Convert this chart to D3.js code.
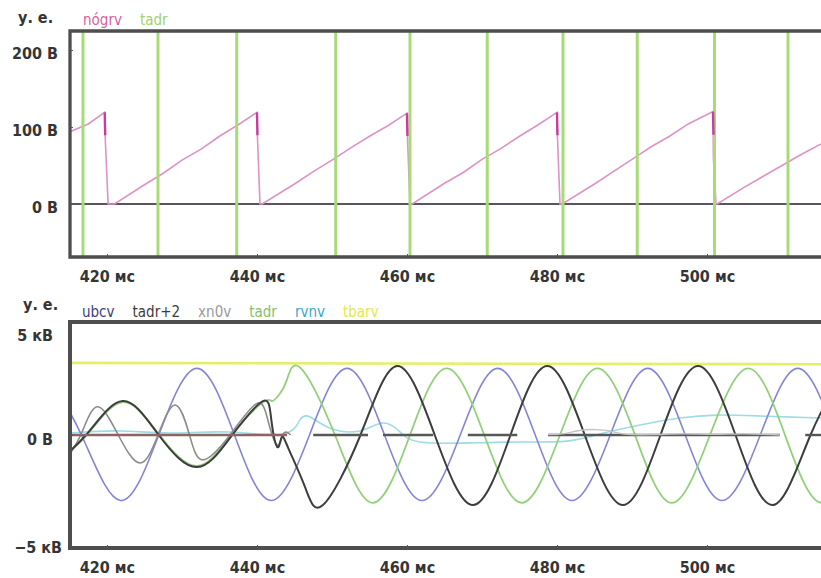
<!DOCTYPE html>
<html>
<head>
<meta charset="utf-8">
<script src="https://cdn.jsdelivr.net/npm/d3@7"></script>
<style>
  body { margin: 0; background: #fff; }
  svg { display: block; }
</style>
</head>
<body>
<div id="chart"></div>
<script>
// ===== DATA =====
const timeTicks = [420, 440, 460, 480, 500];          // ms
const topTicks = [200, 100, 0];                       // V
const bottomTicks = [5, 0, -5];                       // kV
const topLegend = ['nógrv', 'tadr'];
const bottomLegend = ['ubcv', 'tadr+2', 'xn0v', 'tadr', 'rvnv', 'tbarv'];

// top panel: tadr pulses (ms)
const tadrPulses = [416.8, 426.8, 437.3, 450.5, 460.4, 470.7, 480.8, 490.7, 501.0, 510.8];

// top panel: nógrv sawtooth [ms, V]
const nogrv = [
    [415.07, 94], [417.5, 104], [419.7, 119], [419.75, 90], [420.15, 0], [421.0, 0],
    [425.0, 25], [427.5, 40], [430.0, 57], [432.5, 71], [435.0, 88], [437.5, 103], [440.0, 119],
    [440.05, 90], [440.4, 0], [440.7, 0],
    [445.0, 26], [447.5, 42], [450.0, 57], [452.5, 73], [455.0, 88], [457.5, 102], [460.0, 118],
    [460.05, 90], [460.4, 0], [460.7, 0],
    [465.0, 27], [467.5, 41], [470.0, 58], [472.5, 72], [475.0, 88], [477.5, 103], [480.0, 119],
    [480.05, 90], [480.4, 0], [480.7, 0],
    [485.0, 26], [487.5, 42], [490.0, 58], [492.5, 74], [495.0, 88], [497.5, 104], [500.8, 120],
    [500.85, 60], [501.2, 0], [501.35, 0],
    [505.0, 22], [507.5, 36], [510.0, 50], [512.5, 64], [515.2, 78]
];
// sharp drops of nógrv [ms, peak V]
const nogrvDrops = [[419.7, 119], [440.0, 119], [460.0, 118], [480.0, 119], [500.8, 120]];

// bottom panel series [ms, kV]
const ubcv = [
    [411.5, 2.95], [416.6, 0], [421.8, -2.9], [426.9, 0], [432.0, 2.95], [437.0, 0],
    [441.9, -2.9], [447.0, 0], [452.0, 2.95], [457.0, 0], [462.0, -2.9], [467.1, 0],
    [472.1, 2.95], [477.1, 0], [482.0, -2.9], [487.1, 0], [492.1, 2.95], [497.1, 0],
    [502.0, -2.9], [507.1, 0], [512.1, 2.95], [517.1, 0]
];
const tadr = [
    [412.4, -1.4], [417.3, 0], [422.1, 1.45], [427.0, 0], [432.0, -1.37], [436.6, 0],
    [440.8, 1.45], [442.0, 1.5], [443.0, 1.8], [444.0, 2.45], [445.8, 2.97], [450.4, 0],
    [455.4, -3.0], [460.4, 0], [465.3, 2.95], [470.3, 0], [475.3, -3.0], [480.4, 0],
    [485.4, 2.95], [490.4, 0], [495.3, -3.0], [500.4, 0], [505.5, 2.95], [510.4, 0],
    [515.3, -3.0], [520.3, 0]
];
const tadr2 = [
    [412.4, -1.45], [417.2, 0], [422.1, 1.5], [426.9, 0], [432.0, -1.42], [436.7, 0],
    [440.8, 1.5], [441.9, 0.7], [442.7, -0.53], [443.3, -0.1], [444.2, -0.6], [446.4, -2.3],
    [448.8, -3.1], [453.8, 0], [458.7, 3.05], [463.7, 0], [468.8, -3.1], [473.8, 0],
    [478.7, 3.05], [483.7, 0], [488.8, -3.1], [493.8, 0], [498.8, 3.05], [503.8, 0],
    [508.8, -3.1], [513.8, 0], [518.8, 3.05]
];
const xn0v = [
    [414.3, -1.2], [416.5, 0], [418.7, 1.25], [421.5, 0], [424.4, -1.24], [426.8, 0],
    [429.1, 1.33], [431.0, 0], [432.8, -1.1], [436.4, 0], [440.0, 1.4], [441.5, 0.6],
    [442.7, -0.45], [443.5, 0.05], [444.5, 0]
];
const xn0vTail = [
    [478.8, 0.02], [481.0, 0.06], [483.0, 0.2], [485.0, 0.24], [487.0, 0.18], [489.0, 0.04],
    [493.0, 0.02], [497.0, 0.05], [501.0, 0.03], [505.0, 0.05], [509.7, 0.0]
];
// stretches where the trace sits on 0 [from ms, to ms]
const zeroSegs = [[415.07, 444.0], [447.5, 454.8], [456.8, 463.5], [468.1, 474.7], [478.8, 509.7], [513.1, 515.2]];
const rvnv = [
    [415.07, 0.09], [421.7, 0.18], [428.4, 0.09], [436.4, 0.13], [443.5, 0.04], [445.7, 0.66],
    [447.1, 0.8], [449.7, 0.31], [453.7, 0.18], [456.8, 0.53], [459.1, 0.13], [461.7, -0.31],
    [468.4, -0.35], [475.1, -0.31], [481.3, -0.27], [485.7, 0.04], [491.1, 0.44], [496.4, 0.75],
    [501.3, 0.88], [507.1, 0.84], [515.2, 0.75]
];
const tbarv = [[415.07, 3.19], [515.2, 3.13]];

// ===== SETUP =====
const W = 821, H = 578;
const FONT = '"DejaVu Sans Condensed", "DejaVu Sans", sans-serif';
const FRAME = '#4e4e4e';

const x = d3.scaleLinear().domain([415.07, 515.2]).range([70, 821]);
const yTop = d3.scaleLinear().domain([-68.8, 224.7]).range([257, 31]);
const yBot = d3.scaleLinear().domain([-5, 5]).range([548, 322]);

const svg = d3.select('#chart').append('svg').attr('width', W).attr('height', H);
const defs = svg.append('defs');

function addClip(id, y) {
    defs.append('clipPath').attr('id', id).append('rect')
        .attr('x', x.range()[0]).attr('y', y.range()[1])
        .attr('width', x.range()[1] - x.range()[0])
        .attr('height', y.range()[0] - y.range()[1]);
}
addClip('clip-top', yTop);
addClip('clip-bot', yBot);

const lineTop = d3.line().x(d => x(d[0])).y(d => yTop(d[1]));
const lineBot = d3.line().x(d => x(d[0])).y(d => yBot(d[1])).curve(d3.curveNatural);
const lineFlat = d3.line().x(d => x(d[0])).y(d => yBot(d[1]));

// ===== TOP PANEL =====
const topG = svg.append('g').attr('clip-path', 'url(#clip-top)');

topG.append('line')
    .attr('x1', x.range()[0]).attr('x2', x.range()[1])
    .attr('y1', yTop(0)).attr('y2', yTop(0))
    .attr('stroke', '#5b5360').attr('stroke-width', 2.2);

topG.append('path').datum(nogrv)
    .attr('d', lineTop).attr('fill', 'none')
    .attr('stroke', '#dd93c6').attr('stroke-width', 1.6);

topG.selectAll('.pulse').data(tadrPulses).enter().append('line')
    .attr('x1', d => x(d)).attr('x2', d => x(d))
    .attr('y1', yTop.range()[1]).attr('y2', yTop.range()[0])
    .attr('stroke', '#a9da78').attr('stroke-width', 3);

topG.selectAll('.drop').data(nogrvDrops).enter().append('line')
    .attr('x1', d => x(d[0])).attr('x2', d => x(d[0]) + 0.5)
    .attr('y1', d => yTop(d[1])).attr('y2', d => yTop(d[1] * 0.75))
    .attr('stroke', '#c43f9c').attr('stroke-width', 2.4);

// ===== BOTTOM PANEL =====
const botG = svg.append('g').attr('clip-path', 'url(#clip-bot)');

botG.append('path').datum(tbarv).attr('d', lineFlat).attr('fill', 'none')
    .attr('stroke', '#e6ee66').attr('stroke-width', 2.6);
botG.append('path').datum(rvnv).attr('d', lineBot).attr('fill', 'none')
    .attr('stroke', '#9fdbe3').attr('stroke-width', 1.6);
botG.append('path').datum(ubcv).attr('d', lineBot).attr('fill', 'none')
    .attr('stroke', '#8585d6').attr('stroke-width', 1.6);
botG.append('path').datum(tadr).attr('d', lineBot).attr('fill', 'none')
    .attr('stroke', '#92d07a').attr('stroke-width', 1.8);
botG.append('path').datum(xn0v).attr('d', lineBot).attr('fill', 'none')
    .attr('stroke', '#8c8c8c').attr('stroke-width', 1.6);
botG.append('path').datum(tadr2).attr('d', lineBot).attr('fill', 'none')
    .attr('stroke', '#3d3d3d').attr('stroke-width', 2);

botG.selectAll('.zero').data(zeroSegs).enter().append('line')
    .attr('x1', d => x(d[0])).attr('x2', d => x(d[1]))
    .attr('y1', yBot(0)).attr('y2', yBot(0))
    .attr('stroke', (d, i) => i === 0 ? '#8d6464' : '#575757')
    .attr('stroke-width', 2.4);

botG.append('path').datum(xn0vTail).attr('d', lineBot).attr('fill', 'none')
    .attr('stroke', '#c4c4c4').attr('stroke-width', 1.4);

// ===== FRAMES & AXES =====
function frame(y, w) {
    const [b, t] = y.range();
    svg.append('path')
        .attr('d', `M${x.range()[1]},${t}H${x.range()[0]}V${b}H${x.range()[1]}`)
        .attr('fill', 'none').attr('stroke', FRAME).attr('stroke-width', w);
}
frame(yTop, 3.3);
frame(yBot, 4);

function styleAxis(g) {
    g.select('.domain').remove();
    g.attr('font-family', FONT).attr('font-size', 16).attr('font-weight', 'bold')
        .attr('color', '#555');
    g.selectAll('text').attr('fill', '#353535');
}

[yTop, yBot].forEach(y => {
    const gx = svg.append('g').attr('transform', `translate(0,${y.range()[0]})`)
        .call(d3.axisBottom(x).tickValues(timeTicks).tickSize(-3).tickPadding(14)
            .tickFormat(d => d + ' мс'));
    styleAxis(gx);
});

const gyTop = svg.append('g').attr('transform', `translate(${x.range()[0]},0)`)
    .call(d3.axisLeft(yTop).tickValues(topTicks).tickSize(-3).tickPadding(12)
        .tickFormat(d => d + ' В'));
styleAxis(gyTop);
gyTop.selectAll('text').attr('transform', 'translate(0,3.5)');

const gyBot = svg.append('g').attr('transform', `translate(${x.range()[0]},0)`)
    .call(d3.axisLeft(yBot).tickValues(bottomTicks).tickSize(-3).tickPadding(17)
        .tickFormat(d => d === 0 ? '0 В' : (d < 0 ? '−' : '') + Math.abs(d) + ' кВ'));
styleAxis(gyBot);
gyBot.selectAll('text').attr('transform', d => d === 5 ? 'translate(0,13)' : d === -5 ? 'translate(9,-1)' : 'translate(0,4.5)');

// ===== LEGENDS =====
function legend(unitX, unitY, startX, baseY, names, colors) {
    svg.append('text').attr('x', unitX).attr('y', unitY)
        .attr('font-family', FONT).attr('font-size', 16).attr('font-weight', 'bold')
        .attr('fill', '#353535').text('у. е.');
    let cx = startX;
    names.forEach((n, i) => {
        const t = svg.append('text').attr('x', cx).attr('y', baseY)
            .attr('font-family', FONT).attr('font-size', 15)
            .attr('fill', colors[i]).text(n);
        cx += t.node().getComputedTextLength() + 18;
    });
}
legend(18, 23, 83, 25, topLegend, ['#d55fa0', '#9dd46c']);
legend(23, 310, 82, 317, bottomLegend,
    ['#3b3d7c', '#3c3c3c', '#9b9b9b', '#86c06a', '#3aa9c9', '#e2e84e']);
</script>
</body>
</html>
